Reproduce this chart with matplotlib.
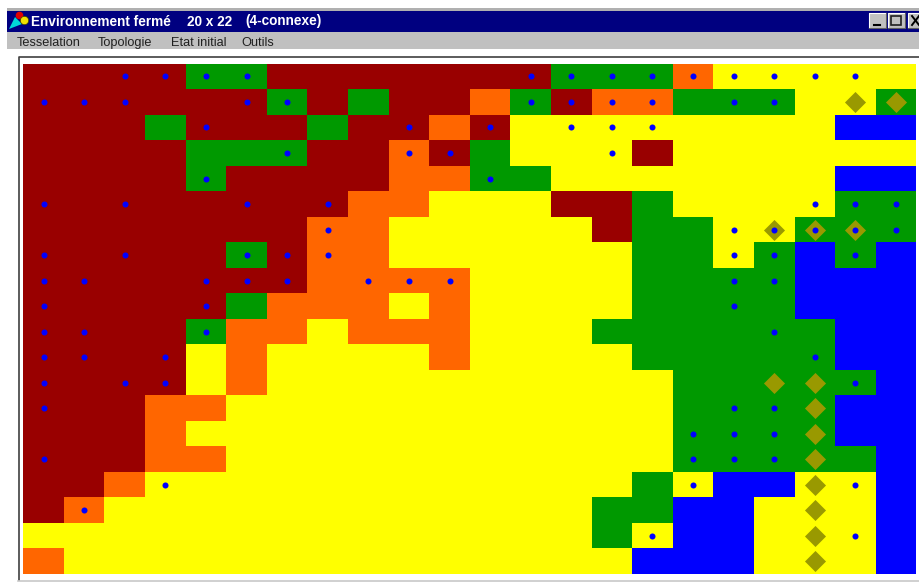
import numpy as np
import matplotlib
matplotlib.use('Agg')
import matplotlib.pyplot as plt
from matplotlib.colors import ListedColormap
from matplotlib.patches import Rectangle, Polygon

W, H = 919, 588

# la grille, une lettre par cellule
lignes = [
    'RRRRGGRRRRRRRGGGOYYYYY',
    'RRRRRRGRGRROGROOGGGYYG',
    'RRRGRRRGRRORYYYYYYYYBB',
    'RRRRGGGRRORGYYYRYYYYYY',
    'RRRRGRRRROOGGYYYYYYYBB',
    'RRRRRRRROOYYYRRGYYYYGG',
    'RRRRRRROOYYYYYRGGYYGGG',
    'RRRRRGROOYYYYYYGGYGBGB',
    'RRRRRRROOOOYYYYGGGGBBB',
    'RRRRRGOOOYOYYYYGGGGBBB',
    'RRRRGOOYOOOYYYGGGGGGBB',
    'RRRRYOYYYYOYYYYGGGGGBB',
    'RRRRYOYYYYYYYYYYGGGGGB',
    'RRROOYYYYYYYYYYYGGGGBB',
    'RRROYYYYYYYYYYYYGGGGBB',
    'RRROOYYYYYYYYYYYGGGGGB',
    'RROYYYYYYYYYYYYGYBBYYB',
    'ROYYYYYYYYYYYYGGBBYYYB',
    'YYYYYYYYYYYYYYGYBBYYYB',
    'OYYYYYYYYYYYYYYBBBYYYB',
]
couleurs = ['#990000', '#FF6600', '#FFFF00', '#009900', '#0000FF']
lettres = 'ROYGB'

# agents : (ligne, colonnes)
points = {
    0: [2, 3, 4, 5, 12, 13, 14, 15, 16, 17, 18, 19, 20],
    1: [0, 1, 2, 5, 6, 12, 13, 14, 15, 17, 18],
    2: [4, 9, 11, 13, 14, 15],
    3: [6, 9, 10, 14],
    4: [4, 11],
    5: [0, 2, 5, 7, 19, 20, 21],
    6: [7, 17, 18, 19, 20, 21],
    7: [0, 2, 5, 6, 7, 17, 18, 20],
    8: [0, 1, 4, 5, 6, 8, 9, 10, 17, 18],
    9: [0, 4, 17],
    10: [0, 1, 4, 18],
    11: [0, 1, 3, 19],
    12: [0, 2, 3, 20],
    13: [0, 17, 18],
    14: [16, 17, 18],
    15: [0, 16, 17, 18],
    16: [3, 16, 20],
    17: [1],
    18: [15, 20],
}
losanges = {
    1: [20, 21],
    6: [18, 19, 20],
    12: [18, 19],
    13: [19],
    14: [19],
    15: [19],
    16: [19],
    17: [19],
    18: [19],
    19: [19],
}

titres = ['Environnement fermé', '20 x 22', '(4-connexe)']
titres_x = [31, 187, 245]
menus = ['Tesselation', 'Topologie', 'Etat initial', 'Outils']
menus_x = [17, 98, 171, 241]


def px_axes(x0, y0, x1, y1):
    return fig.add_axes([x0 / W, 1 - y1 / H, (x1 - x0) / W, (y1 - y0) / H])


fig = plt.figure(figsize=(W / 100, H / 100), dpi=100, facecolor='white')
plt.rcParams['font.family'] = ['Liberation Sans', 'DejaVu Sans']

# fenetre : un axe en pixels pour le titre et le menu
fond = px_axes(0, 0, W, H)
fond.set_xlim(0, W)
fond.set_ylim(H, 0)
fond.axis('off')
fond.add_patch(Rectangle((7, 8), W - 7, 2.5, color='#b0b0b0', lw=0))
fond.add_patch(Rectangle((7, 10.5), W - 7, 21, color='#000080', lw=0))
fond.add_patch(Rectangle((7, 31.5), W - 7, 17, color='#c0c0c0', lw=0))
for t, tx in zip(titres, titres_x):
    fond.text(tx, 25.5, t, color='white', fontsize=9.8, fontweight='bold', va='baseline')
for m, mx in zip(menus, menus_x):
    fond.text(mx, 46, m, color='#202020', fontsize=9.2, va='baseline')

# petite icone
fond.add_patch(Polygon([[9, 29], [15, 17], [22, 24]], color='#00d8d8', lw=0))
fond.plot([19], [14.5], 'o', color='#e00000', ms=5.5, mew=0)
fond.plot([23.5], [20], 'o', color='#f0e000', ms=6, mec='#404000', mew=0.5)

# boutons
for bx, sym in zip([869, 888, 908], ['_', 'o', 'x']):
    fond.add_patch(Rectangle((bx, 13), 17, 15, fc='#c0c0c0', ec='none'))
    fond.plot([bx, bx, bx + 17], [28, 13, 13], color='white', lw=0.8)
    fond.plot([bx, bx + 17, bx + 17], [28, 28, 13], color='#606060', lw=0.8)
    if sym == '_':
        fond.plot([bx + 5, bx + 11], [24.5, 24.5], color='black', lw=1.5)
    elif sym == 'o':
        fond.add_patch(Rectangle((bx + 3, 16), 10, 9, fc='none', ec='#202020', lw=1.2))
    else:
        fond.plot([bx + 4, bx + 11], [16, 25], color='black', lw=1.4)
        fond.plot([bx + 4, bx + 11], [25, 16], color='black', lw=1.4)

# cadre autour de la grille
fond.plot([18.5, 18.5, W], [580, 56.5, 56.5], color='#404040', lw=1.2)
fond.plot([18, W], [580.5, 580.5], color='#c8c8c8', lw=1.2)

# la grille
grille = np.array([[lettres.index(c) for c in l] for l in lignes])
ax = px_axes(23.3, 63.7, 916.3, 574)
ax.pcolormesh(np.arange(23), np.arange(21), grille,
              cmap=ListedColormap(couleurs), vmin=-0.5, vmax=4.5)
ax.set_xlim(0, 22)
ax.set_ylim(20, 0)
ax.axis('off')

lx = [c + 0.5 for r in losanges for c in losanges[r]]
ly = [r + 0.5 for r in losanges for c in losanges[r]]
ax.scatter(lx, ly, marker='D', s=115, color='#999900', linewidths=0, zorder=3)

px = [c + 0.5 for r in points for c in points[r]]
py = [r + 0.5 for r in points for c in points[r]]
ax.scatter(px, py, marker='o', s=19, color='#0000FF', linewidths=0, zorder=4)

fig.savefig('out.png', dpi=100)
